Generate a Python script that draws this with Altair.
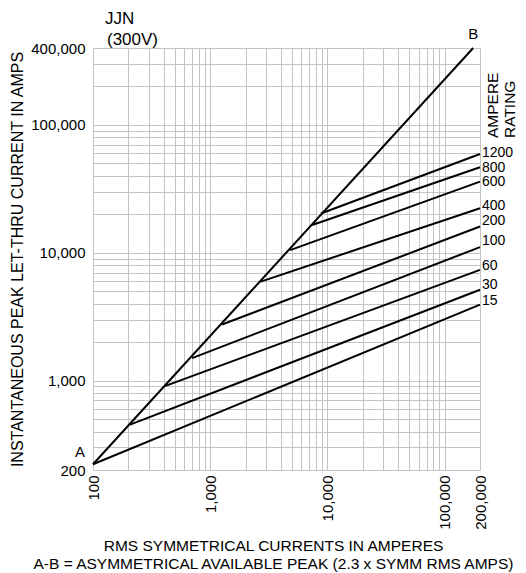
import altair as alt
import pandas as pd

# ---- data ----
ratings = ["15", "30", "60", "100", "200", "400", "600", "800", "1200"]
start_x = [100, 207, 410, 700, 1260, 2700, 4800, 7400, 8800]
start_y = [222, 453, 905, 1500, 2750, 5950, 10500, 16500, 20300]
end_x = 200000
end_y = [3930, 5140, 7360, 11080, 16050, 22340, 36050, 46700, 59300]
label_y = [4220, 5620, 7910, 12300, 17620, 23070, 35570, 46100, 60400]

ab_x = [100, 175000]
ab_y = [222, 400000]

x_labels = [100, 1000, 10000, 100000, 200000]
y_labels = [200, 1000, 10000, 100000, 400000]
x_grid = [m * 10 ** e for e in (2, 3, 4) for m in range(1, 10)] + [100000, 200000]
y_grid = [m * 10 ** e for e in (2, 3, 4) for m in range(1, 10) if m * 10 ** e >= 200] + [100000, 200000, 300000, 400000]

rows = []
for r, sx, sy, ey in zip(ratings, start_x, start_y, end_y):
    rows.append({"series": r, "x": sx, "y": sy, "o": 0})
    rows.append({"series": r, "x": end_x, "y": ey, "o": 1})
for i, (x, y) in enumerate(zip(ab_x, ab_y)):
    rows.append({"series": "AB", "x": x, "y": y, "o": i})
df = pd.DataFrame(rows)

lab = pd.DataFrame({"x": [end_x] * len(ratings), "y": label_y, "t": ratings})

FONT = "Liberation Sans"

xscale = alt.Scale(type="log", domain=[100, 200000], nice=False)
yscale = alt.Scale(type="log", domain=[200, 400000], nice=False)

def expr(vals):
    return "indexof([" + ",".join(str(v) for v in vals) + "], datum.value) >= 0 ? format(datum.value, ',') : ''"

xaxis = alt.Axis(
    values=x_grid, labelExpr=expr(x_labels), labelAngle=270, labelAlign="right",
    labelBaseline="middle", ticks=False, domain=False, gridColor="#c4c4c4", gridWidth=1,
    labelFont=FONT, labelFontSize=15, labelColor="black", labelPadding=5,
    labelOverlap=False, labelFlush=False, labelBound=False,
    title=["RMS SYMMETRICAL CURRENTS IN AMPERES",
           "A-B = ASYMMETRICAL AVAILABLE PEAK (2.3 x SYMM RMS AMPS)"],
    titleX=180, titleY=80, titleAlign="center", titleAnchor="start", titleBaseline="alphabetic",
    titleFont=FONT, titleFontSize=15.5, titleFontWeight="normal", titleColor="black",
    titleLineHeight=18,
)
yaxis = alt.Axis(
    values=y_grid, labelExpr=expr(y_labels), ticks=False, domain=False,
    gridColor="#c4c4c4", gridWidth=1,
    labelFont=FONT, labelFontSize=15, labelColor="black", labelPadding=8,
    labelOverlap=False, labelFlush=False, labelBound=False,
    title="INSTANTANEOUS PEAK LET-THRU CURRENT IN AMPS",
    titleX=-76, titleFont=FONT, titleFontSize=16, titleFontWeight="normal",
    titleColor="black", titleBaseline="middle",
)

lines = alt.Chart(df).mark_line(color="black", strokeWidth=2).encode(
    x=alt.X("x:Q", scale=xscale, axis=xaxis),
    y=alt.Y("y:Q", scale=yscale, axis=yaxis),
    detail="series:N",
    order="o:Q",
)

labels = alt.Chart(lab).mark_text(align="left", baseline="middle", dx=2, font=FONT,
                                   fontSize=14, color="black").encode(
    x=alt.X("x:Q", scale=xscale), y=alt.Y("y:Q", scale=yscale), text="t:N")

ends = pd.DataFrame({"x": [ab_x[0], ab_x[1]], "y": [ab_y[0], ab_y[1]], "t": ["A", "B"]})
a_lab = alt.Chart(ends.iloc[[0]]).mark_text(font=FONT, fontSize=15, color="black",
                                            dx=-13, dy=-12).encode(
    x=alt.X("x:Q", scale=xscale), y=alt.Y("y:Q", scale=yscale), text="t:N")
b_lab = alt.Chart(ends.iloc[[1]]).mark_text(font=FONT, fontSize=15, color="black",
                                            dx=0, dy=-14).encode(
    x=alt.X("x:Q", scale=xscale), y=alt.Y("y:Q", scale=yscale), text="t:N")

title_df = pd.DataFrame({"t": ["JJN", "(300V)"]})
t1 = alt.Chart(title_df.iloc[[0]]).mark_text(align="left", baseline="middle", font=FONT,
                                             fontSize=17, color="black").encode(
    x=alt.value(12), y=alt.value(-29), text="t:N")
t2 = alt.Chart(title_df.iloc[[1]]).mark_text(align="left", baseline="middle", font=FONT,
                                             fontSize=17, color="black").encode(
    x=alt.value(14), y=alt.value(-8), text="t:N")

amp_df = pd.DataFrame({"t": ["AMPERE", "RATING"]})
a1 = alt.Chart(amp_df.iloc[[0]]).mark_text(align="left", baseline="middle", angle=270,
                                           font=FONT, fontSize=15.5, color="black").encode(
    x=alt.value(400), y=alt.value(90), text="t:N")
a2 = alt.Chart(amp_df.iloc[[1]]).mark_text(align="left", baseline="middle", angle=270,
                                           font=FONT, fontSize=15.5, color="black").encode(
    x=alt.value(416.5), y=alt.value(90), text="t:N")

chart = alt.layer(lines, labels, a_lab, b_lab, t1, t2, a1, a2).properties(
    width=387, height=422,
    autosize=alt.AutoSizeParams(type="none"),
    padding={"left": 85, "top": 40, "right": 38, "bottom": 103},
).configure_view(strokeWidth=0)

chart.save("out.html", embed_options={"renderer": "svg", "actions": False})
